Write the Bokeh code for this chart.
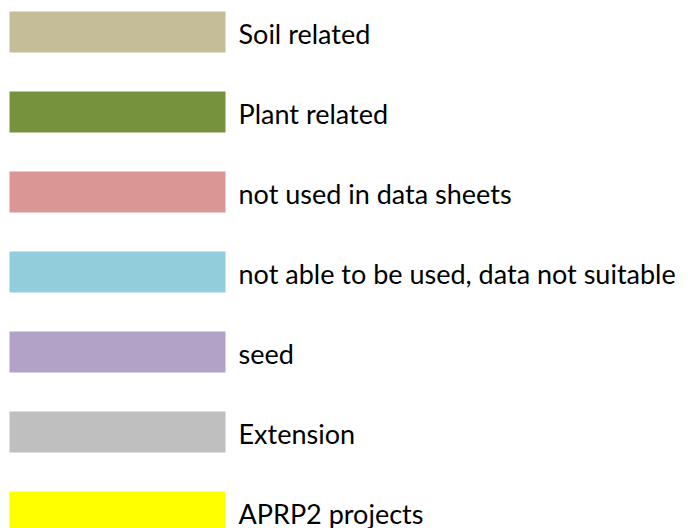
from bokeh.plotting import figure
from bokeh.models import Range1d, ColumnDataSource
from bokeh.core.properties import value
from bokeh.embed import file_html
from bokeh.resources import INLINE

labels = ["Soil related", "Plant related", "not used in data sheets",
          "not able to be used, data not suitable", "seed", "Extension",
          "APRP2 projects"]
colors = ["#C4BD97", "#76923C", "#D99694", "#92CDDC", "#B3A2C7", "#BFBFBF", "#FFFF00"]

W, H = 688, 528
p = figure(width=W, height=H, output_backend="svg", toolbar_location=None,
           x_range=Range1d(0, W), y_range=Range1d(H, 0), min_border=0,
           outline_line_color=None, background_fill_color="white",
           border_fill_color="white")
p.axis.visible = False
p.grid.visible = False

step = 80
idx = list(range(len(labels)))
src = ColumnDataSource(dict(
    left=[9] * len(idx),
    right=[225] * len(idx),
    top=[11 + step * i for i in idx],
    bottom=[52 + step * i for i in idx],
    ty=[32.5 + step * i for i in idx],
    tx=[238] * len(idx),
    label=labels,
    color=colors,
))
p.quad(left="left", right="right", top="top", bottom="bottom",
       fill_color="color", line_color=None, source=src)
p.text(x="tx", y="ty", text="label", source=src, text_font=value("Lato"),
       text_font_size="27px", text_baseline="middle", text_align="left",
       text_color="#000000")

open("out.html", "w").write(file_html(p, INLINE))
